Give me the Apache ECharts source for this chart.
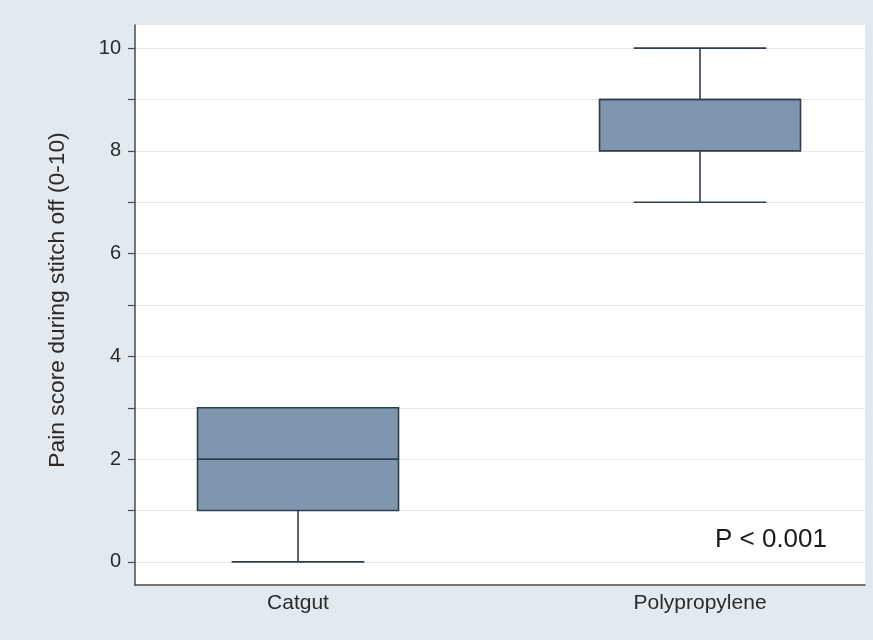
<!DOCTYPE html>
<html>
<head>
<meta charset="utf-8">
<script src="https://cdn.jsdelivr.net/npm/echarts@6/dist/echarts.min.js"></script>
<style>html,body{margin:0;padding:0;background:#e2eaf0;}#c{width:873px;height:640px;}</style>
</head>
<body>
<div id="c"></div>
<script>
const categories = ['Catgut', 'Polypropylene'];
const mins = [0, 7];
const q1s = [1, 8];
const medians = [2, 9];
const q3s = [3, 9];
const maxs = [3, 10];
const yTicks = [0, 1, 2, 3, 4, 5, 6, 7, 8, 9, 10];
const yLabels = [0, 2, 4, 6, 8, 10];
const pText = 'P < 0.001';

const data = categories.map((c, i) => [i + 1, mins[i], q1s[i], medians[i], q3s[i], maxs[i]]);

function renderItem(params, api) {
  const x = api.value(0);
  const lo = api.coord([x, api.value(1)]);
  const q1 = api.coord([x, api.value(2)]);
  const med = api.coord([x, api.value(3)]);
  const q3 = api.coord([x, api.value(4)]);
  const hi = api.coord([x, api.value(5)]);
  const unit = api.size([1, 0])[0];
  const bw = unit * 0.5, cw = unit * 0.33;
  const cx = lo[0];
  const ls = { stroke: '#2e3d50', lineWidth: 1.6 };
  const children = [];
  if (lo[1] !== q1[1]) {
    children.push({ type: 'line', shape: { x1: cx, y1: q1[1], x2: cx, y2: lo[1] }, style: ls });
    children.push({ type: 'line', shape: { x1: cx - cw / 2, y1: lo[1], x2: cx + cw / 2, y2: lo[1] }, style: ls });
  }
  if (hi[1] !== q3[1]) {
    children.push({ type: 'line', shape: { x1: cx, y1: q3[1], x2: cx, y2: hi[1] }, style: ls });
    children.push({ type: 'line', shape: { x1: cx - cw / 2, y1: hi[1], x2: cx + cw / 2, y2: hi[1] }, style: ls });
  }
  children.push({ type: 'rect', shape: { x: cx - bw / 2, y: q3[1], width: bw, height: q1[1] - q3[1] },
    style: { fill: '#7f96ae', stroke: '#2e3d50', lineWidth: 1.6 } });
  children.push({ type: 'line', shape: { x1: cx - bw / 2, y1: med[1], x2: cx + bw / 2, y2: med[1] }, style: ls });
  return { type: 'group', children };
}

const chart = echarts.init(document.getElementById('c'));
chart.setOption({
  backgroundColor: '#e2eaf0',
  animation: false,
  textStyle: { fontFamily: 'Liberation Sans, Arial, sans-serif' },
  grid: { left: 135, top: 25, width: 730, height: 560, show: true, backgroundColor: '#ffffff', borderWidth: 0 },
  xAxis: {
    type: 'value', min: 0.5945, max: 2.4104,
    axisLine: { show: true, onZero: false, lineStyle: { color: '#4a4a4a', width: 1.5 } },
    axisTick: { show: false },
    splitLine: { show: false },
    axisLabel: {
      customValues: [1, 2],
      formatter: v => categories[Math.round(v) - 1],
      fontSize: 21, color: '#2a2a2a', margin: 8
    }
  },
  yAxis: {
    type: 'value', min: -0.45, max: 10.45,
    name: 'Pain score during stitch off (0-10)',
    nameLocation: 'middle', nameGap: 66, nameRotate: 90,
    nameTextStyle: { fontSize: 22.8, color: '#2a2a2a', padding: [0, 0, 0, 10] },
    axisLine: { show: true, onZero: false, lineStyle: { color: '#4a4a4a', width: 1.5 } },
    axisTick: { show: true, customValues: yTicks, length: 7, lineStyle: { color: '#4a4a4a', width: 1.2 } },
    splitLine: { show: true, lineStyle: { color: '#e8e8e8', width: 1 } },
    axisLabel: { customValues: yLabels, fontSize: 20, color: '#2a2a2a', margin: 14 }
  },
  graphic: [{
    type: 'text', right: 46, top: 527,
    style: { text: pText, fontSize: 26, fill: '#1a1a1a', fontFamily: 'Liberation Sans, Arial, sans-serif' }
  }],
  series: [{
    type: 'custom',
    renderItem,
    data,
    encode: { x: 0, y: [1, 2, 3, 4, 5] }
  }]
});
</script>
</body>
</html>
